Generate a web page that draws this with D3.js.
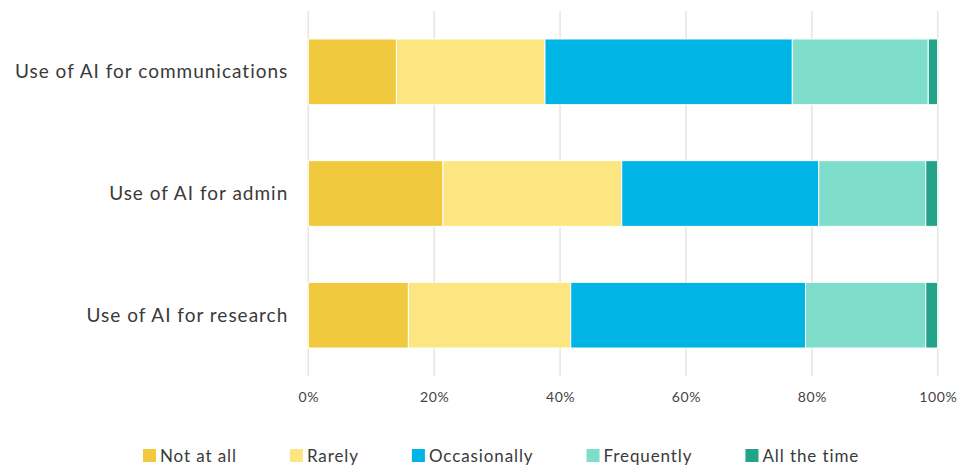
<!DOCTYPE html>
<html>
<head>
<meta charset="utf-8">
<script src="https://cdn.jsdelivr.net/npm/d3@7"></script>
<style>
  html, body { margin: 0; padding: 0; background: #fff; }
  svg { display: block; font-family: Lato, "Open Sans", sans-serif; }
</style>
</head>
<body>
<svg id="chart" width="960" height="469"></svg>
<script>
// Survey categories (top to bottom)
const categories = [
  "Use of AI for communications",
  "Use of AI for admin",
  "Use of AI for research"
];

// Response options, in stacking order
const responses = ["Not at all", "Rarely", "Occasionally", "Frequently", "All the time"];
const colors = ["#F1C93F", "#FBE681", "#00B4E6", "#7FDDCB", "#22A38A"];

// Share of respondents (%) per category, one array per response option
const notAtAll     = [14.0, 21.4, 15.9];
const rarely       = [23.6, 28.4, 25.8];
const occasionally = [39.3, 31.3, 37.3];
const frequently   = [21.6, 17.0, 19.1];
const allTheTime   = [1.5, 1.9, 1.9];

const tickValues = [0, 20, 40, 60, 80, 100];

const seriesValues = [notAtAll, rarely, occasionally, frequently, allTheTime];
const rows = categories.map((c, i) => {
  const r = { category: c };
  responses.forEach((k, j) => { r[k] = seriesValues[j][i]; });
  return r;
});

const svg = d3.select("#chart");
const plot = { left: 308.3, right: 937.7, top: 11, bottom: 376 };

const x = d3.scaleLinear().domain([0, 100]).range([plot.left, plot.right]);
const y = d3.scaleBand().domain(categories)
  .range([plot.top, plot.bottom]).paddingInner(0.46).paddingOuter(0.23);
const color = d3.scaleOrdinal().domain(responses).range(colors);

// Vertical gridlines
svg.append("g")
  .selectAll("line")
  .data(tickValues)
  .join("line")
  .attr("x1", d => x(d)).attr("x2", d => x(d))
  .attr("y1", plot.top).attr("y2", plot.bottom)
  .attr("stroke", "#E6E6D8")
  .attr("stroke-width", 1.5);

// Stacked bars
const stacked = d3.stack().keys(responses)(rows);
svg.append("g")
  .selectAll("g")
  .data(stacked)
  .join("g")
  .attr("fill", d => color(d.key))
  .selectAll("rect")
  .data(d => d)
  .join("rect")
  .attr("x", d => x(d[0]))
  .attr("width", d => x(d[1]) - x(d[0]))
  .attr("y", d => y(d.data.category))
  .attr("height", y.bandwidth())
  .attr("stroke", "#fff")
  .attr("stroke-width", 1);

// Category labels
svg.append("g")
  .selectAll("text")
  .data(categories)
  .join("text")
  .attr("x", plot.left - 20)
  .attr("y", d => y(d) + y.bandwidth() / 2)
  .attr("dy", "0.35em")
  .attr("text-anchor", "end")
  .attr("fill", "#3a3a3a")
  .style("font-size", "19px")
  .style("letter-spacing", "1px")
  .text(d => d);

// Bottom axis labels
const xAxis = d3.axisBottom(x).tickValues(tickValues).tickFormat(d => d + "%").tickSize(0);
const axisG = svg.append("g")
  .attr("transform", `translate(0, ${plot.bottom + 13})`)
  .call(xAxis);
axisG.select(".domain").remove();
axisG.selectAll("text")
  .attr("fill", "#444")
  .style("font-size", "14px")
  .style("letter-spacing", "0.6px")
  .style("font-family", "Lato, 'Open Sans', sans-serif");

// Legend
const legend = svg.append("g").attr("transform", "translate(0, 449)");
let lx = 143;
responses.forEach(k => {
  const item = legend.append("g").attr("transform", `translate(${lx}, 0)`);
  item.append("rect").attr("width", 13).attr("height", 13).attr("fill", color(k));
  const t = item.append("text")
    .attr("x", 17).attr("y", 6.5).attr("dy", "0.36em")
    .attr("fill", "#3a3a3a")
    .style("font-size", "17px")
    .style("letter-spacing", "0.9px")
    .text(k);
  lx += 17 + t.node().getComputedTextLength() + 53;
});
</script>
</body>
</html>
